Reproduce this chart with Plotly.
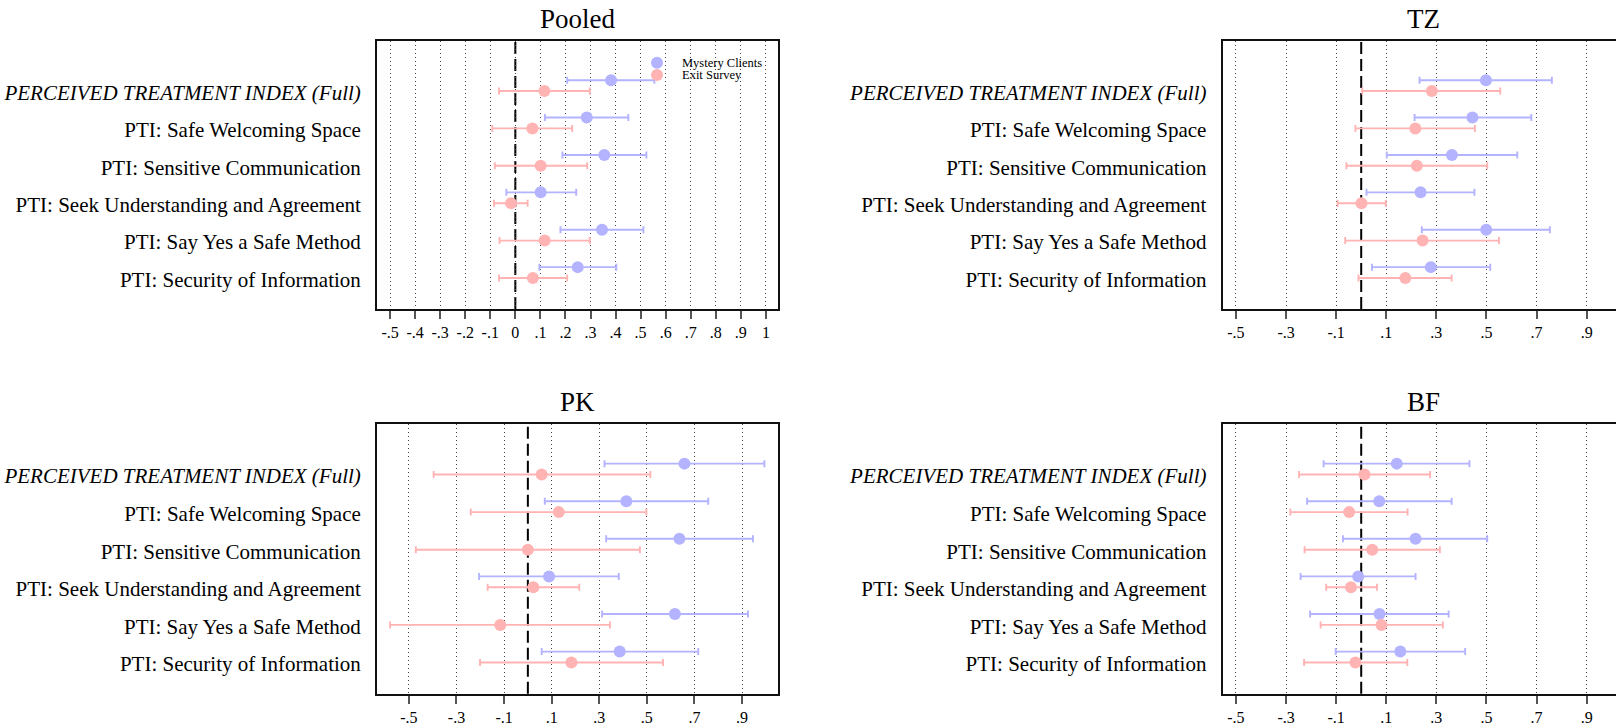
import plotly.graph_objects as go

# Outcome labels (top to bottom)
outcomes = [
    "<i>PERCEIVED TREATMENT INDEX (Full)</i>",
    "PTI: Safe Welcoming Space",
    "PTI: Sensitive Communication",
    "PTI: Seek Understanding and Agreement",
    "PTI: Say Yes a Safe Method",
    "PTI: Security of Information",
]

# Pooled sample
pooled_mc_est = [0.382, 0.285, 0.355, 0.101, 0.346, 0.249]
pooled_mc_lo = [0.207, 0.118, 0.188, -0.036, 0.180, 0.096]
pooled_mc_hi = [0.555, 0.451, 0.523, 0.243, 0.511, 0.403]
pooled_es_est = [0.116, 0.068, 0.101, -0.017, 0.117, 0.070]
pooled_es_lo = [-0.065, -0.092, -0.082, -0.085, -0.063, -0.065]
pooled_es_hi = [0.297, 0.227, 0.287, 0.049, 0.297, 0.207]

# Tanzania
tz_mc_est = [0.498, 0.444, 0.362, 0.237, 0.499, 0.278]
tz_mc_lo = [0.233, 0.213, 0.102, 0.021, 0.242, 0.043]
tz_mc_hi = [0.761, 0.679, 0.623, 0.452, 0.753, 0.515]
tz_es_est = [0.282, 0.216, 0.222, 0.001, 0.245, 0.176]
tz_es_lo = [0.004, -0.023, -0.059, -0.094, -0.064, -0.011]
tz_es_hi = [0.555, 0.454, 0.503, 0.098, 0.550, 0.361]

# Pakistan
pk_mc_est = [0.658, 0.414, 0.637, 0.089, 0.618, 0.386]
pk_mc_lo = [0.322, 0.071, 0.329, -0.205, 0.312, 0.058]
pk_mc_hi = [0.994, 0.758, 0.946, 0.382, 0.925, 0.716]
pk_es_est = [0.058, 0.130, 0.000, 0.023, -0.116, 0.183]
pk_es_lo = [-0.396, -0.240, -0.471, -0.169, -0.579, -0.201]
pk_es_hi = [0.515, 0.498, 0.471, 0.216, 0.345, 0.568]

# Burkina Faso
bf_mc_est = [0.142, 0.072, 0.217, -0.012, 0.073, 0.156]
bf_mc_lo = [-0.150, -0.216, -0.073, -0.242, -0.204, -0.102]
bf_mc_hi = [0.432, 0.361, 0.503, 0.217, 0.349, 0.415]
bf_es_est = [0.013, -0.048, 0.044, -0.041, 0.081, -0.023]
bf_es_lo = [-0.248, -0.283, -0.226, -0.140, -0.162, -0.228]
bf_es_hi = [0.275, 0.185, 0.314, 0.063, 0.326, 0.184]

# Axis ticks
pooled_ticks = [-0.5, -0.4, -0.3, -0.2, -0.1, 0, 0.1, 0.2, 0.3, 0.4, 0.5, 0.6, 0.7, 0.8, 0.9, 1.0]
pooled_ticktext = ["-.5", "-.4", "-.3", "-.2", "-.1", "0", ".1", ".2", ".3", ".4", ".5", ".6", ".7", ".8", ".9", "1"]
country_ticks = [-0.5, -0.3, -0.1, 0.1, 0.3, 0.5, 0.7, 0.9]
country_ticktext = ["-.5", "-.3", "-.1", ".1", ".3", ".5", ".7", ".9"]

MC_COLOR = "#b3b3ff"
ES_COLOR = "#ffb3b3"
SERIF = "Liberation Serif"
W, H = 1616, 725

panels = [
    # (title, mc, es, xrange, ticks, ticktext, xdomain, ydomain, full_frame, title_x_px)
    ("Pooled", (pooled_mc_est, pooled_mc_lo, pooled_mc_hi), (pooled_es_est, pooled_es_lo, pooled_es_hi),
     [-0.552, 1.048], pooled_ticks, pooled_ticktext, [0.2333, 0.4814], [0.5738, 0.9434], True, 577.5),
    ("TZ", (tz_mc_est, tz_mc_lo, tz_mc_hi), (tz_es_est, tz_es_lo, tz_es_hi),
     [-0.553, 1.017], country_ticks, country_ticktext, [0.7566, 1.0], [0.5738, 0.9434], False, 1423.4),
    ("PK", (pk_mc_est, pk_mc_lo, pk_mc_hi), (pk_es_est, pk_es_lo, pk_es_hi),
     [-0.634, 1.051], country_ticks, country_ticktext, [0.2333, 0.4814], [0.0432, 0.4148], True, 577.5),
    ("BF", (bf_mc_est, bf_mc_lo, bf_mc_hi), (bf_es_est, bf_es_lo, bf_es_hi),
     [-0.553, 1.017], country_ticks, country_ticktext, [0.7566, 1.0], [0.0432, 0.4148], False, 1423.4),
]

rows = list(range(1, len(outcomes) + 1))
MC_SHIFT = -0.33
ES_SHIFT = -0.04

fig = go.Figure()
annotations = []
shapes = []

for k, (title, mc, es, xr, ticks, ticktext, xdom, ydom, full_frame, title_x) in enumerate(panels, start=1):
    xa = "x" if k == 1 else f"x{k}"
    ya = "y" if k == 1 else f"y{k}"
    for (est, lo, hi), shift, color, name in [
        (mc, MC_SHIFT, MC_COLOR, "Mystery Clients"),
        (es, ES_SHIFT, ES_COLOR, "Exit Survey"),
    ]:
        fig.add_trace(go.Scatter(
            x=est,
            y=[r + shift for r in rows],
            mode="markers",
            name=name,
            showlegend=False,
            marker=dict(color=color, size=12, line=dict(width=0)),
            error_x=dict(
                type="data",
                symmetric=False,
                array=[h - e for h, e in zip(hi, est)],
                arrayminus=[e - l for e, l in zip(est, lo)],
                color=color,
                thickness=1.9,
                width=3.5,
            ),
            xaxis=xa,
            yaxis=ya,
        ))

    xkey = "xaxis" if k == 1 else f"xaxis{k}"
    ykey = "yaxis" if k == 1 else f"yaxis{k}"
    fig.update_layout({
        xkey: dict(
            domain=xdom, anchor=ya, range=xr,
            tickmode="array", tickvals=ticks, ticktext=ticktext,
            ticks="outside", ticklen=8, tickwidth=2, tickcolor="#555555",
            tickfont=dict(family=SERIF, size=16, color="black"),
            showgrid=True, gridcolor="#444444", gridwidth=1, griddash="1px,3px",
            zeroline=False,
            showline=True, linecolor="#111111", linewidth=2, mirror=True,
        ),
        ykey: dict(
            domain=ydom, anchor=xa, range=[6.79, -0.377],
            tickmode="array", tickvals=rows, ticktext=outcomes,
            ticks="", ticklabelstandoff=10,
            tickfont=dict(family=SERIF, size=21, color="black"),
            showgrid=False, zeroline=False,
            showline=True, linecolor="#111111", linewidth=2, mirror=full_frame,
        ),
    })

    # Dashed reference line at zero
    shapes.append(dict(
        type="line", xref=xa, yref=f"{ya} domain",
        x0=0, x1=0, y0=0, y1=1,
        line=dict(color="black", width=2, dash="12px,5px"),
        layer="below",
    ))

    # Panel title, centred over the plot box
    annotations.append(dict(
        text=title, xref="paper", yref="paper",
        x=title_x / W, y=ydom[1] + 0.0304, showarrow=False,
        font=dict(family=SERIF, size=27, color="black"),
        xanchor="center", yanchor="middle",
    ))

# Legend inside the pooled panel
legend_items = [("Mystery Clients", MC_COLOR), ("Exit Survey", ES_COLOR)]
for j, (label, color) in enumerate(legend_items):
    cy = 1 - (62.7 + 12.3 * j) / H
    shapes.append(dict(
        type="circle", xref="paper", yref="paper",
        x0=(657 - 6) / W, x1=(657 + 6) / W,
        y0=cy - 6 / H, y1=cy + 6 / H,
        fillcolor=color, line=dict(width=0),
        layer="above",
    ))
    annotations.append(dict(
        text=label, xref="paper", yref="paper",
        x=680 / W, y=cy, xanchor="left", yanchor="middle",
        showarrow=False,
        font=dict(family=SERIF, size=12.5, color="black"),
    ))

fig.update_layout(
    width=W, height=H,
    margin=dict(l=0, r=0, t=0, b=0),
    paper_bgcolor="white", plot_bgcolor="white",
    showlegend=False,
    shapes=shapes,
    annotations=annotations,
)

fig.write_html("out.html")
